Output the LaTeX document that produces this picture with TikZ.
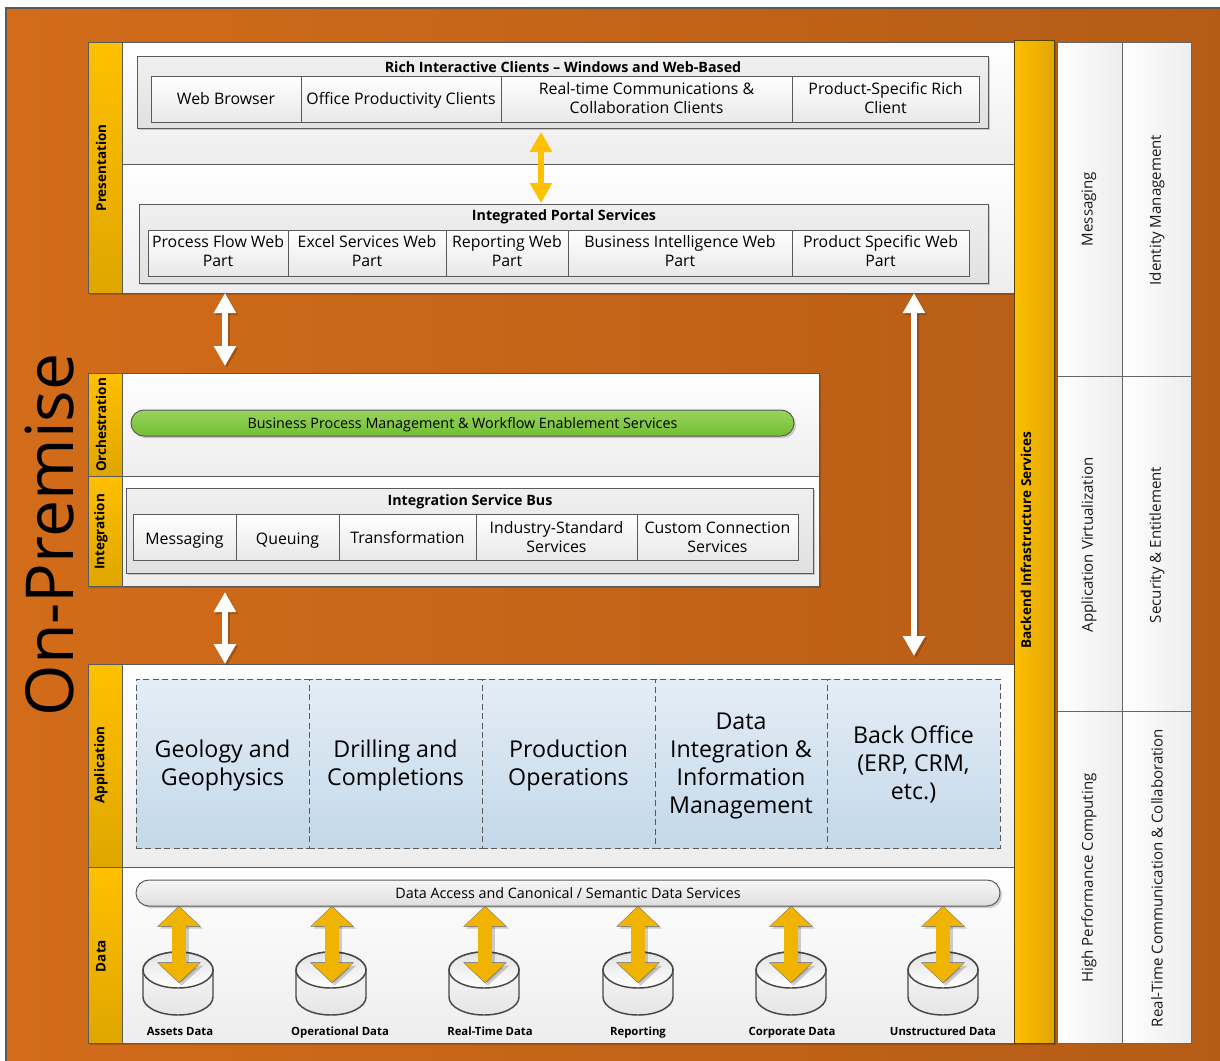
\documentclass[tikz,border=0pt]{standalone}
\usepackage{fontspec}
\setmainfont{Open Sans}
\usetikzlibrary{shadows,arrows.meta}
\definecolor{orA}{HTML}{D26C1A}
\definecolor{orB}{HTML}{B45C16}
\definecolor{goldA}{HTML}{FFC000}
\definecolor{goldB}{HTML}{DFA600}
\definecolor{goldM}{HTML}{EFB300}
\definecolor{edge}{HTML}{5A5A5A}
\definecolor{blueA}{HTML}{E4EDF6}
\definecolor{blueB}{HTML}{C3D8E9}
\definecolor{grnA}{HTML}{9AD45C}
\definecolor{grnB}{HTML}{72BE33}
\tikzset{
  x=0.75pt,y=-0.75pt,
  lstrut/.style={execute at begin node={\rule{0pt}{\dimexpr\ht\strutbox+#1\relax}},execute at end node=\strut},
  box/.style={inner sep=0pt,outer sep=0pt,draw=edge,line width=0.75pt},
  shad/.style={drop shadow={shadow xshift=1.6pt,shadow yshift=-1.6pt,opacity=.18,fill=black}},
  band/.style={box,top color=goldA,bottom color=goldB,shad},
  panel/.style={box,top color=white,bottom color=black!7,shad},
  groupbox/.style={box,top color=black!6,bottom color=black!12,shad},
  cell/.style={box,top color=white,bottom color=black!9,font=\fontsize{11.9}{14.25}\selectfont},
  appbox/.style={box,dashed,dash pattern=on 4.5pt off 2.6pt,top color=blueA,bottom color=blueB,font=\fontsize{17.4}{21}\selectfont},
  pill/.style={box,rounded corners=9.7pt,shad,lstrut=3pt,font=\fontsize{10.75}{12}\selectfont},
  vcol/.style={box,left color=white,right color=black!7,draw=black!60},
  ttl/.style={inner sep=0pt,lstrut=3pt,font=\bfseries\fontsize{10.7}{12}\selectfont},
  vlab/.style={inner sep=0pt,rotate=90,font=\bfseries\fontsize{10.1}{11}\selectfont},
  vtxt/.style={inner sep=0pt,rotate=90,font=\fontsize{11.3}{13}\selectfont,text=black!90},
  dbl/.style={inner sep=0pt,lstrut=3pt,font=\bfseries\fontsize{8.5}{10}\selectfont},
  dbbody/.style={draw=black!72,line width=1.1pt,top color=black!2,bottom color=black!10},
  dbtop/.style={draw=black!72,line width=1.1pt,top color=black!11,bottom color=white},
  sharr/.style={line width=3.8pt,black,opacity=.2,{Triangle[length=15pt,width=15.8pt]}-{Triangle[length=15pt,width=15.8pt]},transform canvas={shift={(1.5pt,-1.5pt)}}},
  warr/.style={line width=3.8pt,white,{Triangle[length=15pt,width=15.8pt]}-{Triangle[length=15pt,width=15.8pt]}},
  garr/.style={line width=4pt,goldA,{Triangle[length=15pt,width=16pt]}-{Triangle[length=15pt,width=16pt]}},
  sharrB/.style={line width=11.5pt,black,opacity=.18,{Triangle[length=15pt,width=31.5pt]}-{Triangle[length=15pt,width=31.5pt]},transform canvas={shift={(2pt,-2pt)}}},
  darrO/.style={line width=11.2pt,edge,{Triangle[length=15.4pt,width=31.5pt]}-{Triangle[length=15.4pt,width=31.5pt]}},
  darr/.style={line width=10.2pt,goldM,{Triangle[length=14.6pt,width=30pt]}-{Triangle[length=14.6pt,width=30pt]},shorten >=0.4pt,shorten <=0.4pt},
}
\newcommand\bx[7]{\node[#6,minimum width={(#4-#2)*0.75pt},minimum height={(#5-#3)*0.75pt}] (#1) at ({(#2+#4)/2},{(#3+#5)/2}) {#7};}
\newcommand\tx[2]{\vbox{\kern#1\hbox{\begin{tabular}{@{}c@{}}#2\end{tabular}}}}
\newcommand\celltext[1]{\tx{3pt}{#1}}
\newcommand\apptext[1]{\tx{3.8pt}{#1}}
\newcommand\whitelink[2]{\draw[sharr] (#1) -- (#2); \draw[warr] (#1) -- (#2);}
\newcommand\goldlink[2]{\draw[garr] (#1) -- (#2);}
\newcommand\datalink[2]{\draw[sharrB] (#1) -- (#2); \draw[darrO] (#1) -- (#2); \draw[darr] (#1) -- (#2);}
\newcommand\cyl[2]{\coordinate (#1) at (#2,984);
  \begin{scope}[shift={(#2,0)}]
    \draw[dbbody] (-35,970) -- (-35,997) arc[start angle=180,end angle=360,x radius=26.25pt,y radius=13.5pt] -- (35,970) arc[start angle=0,end angle=180,x radius=26.25pt,y radius=13.5pt] -- cycle;
    \draw[dbtop] (-35,970) arc[start angle=180,end angle=-180,x radius=26.25pt,y radius=13.5pt] -- cycle;
  \end{scope}}
\begin{document}
\begin{tikzpicture}
\useasboundingbox (0,0) rectangle (1220,1060);
\bx{bg}{6}{8}{1232}{1072}{draw=edge,line width=0.8pt,inner sep=0pt,outer sep=0pt,left color=orA,right color=orB}{}
\node[inner sep=0pt,rotate=90,font=\fontsize{49.6}{60}\selectfont] (onprem) at (50,535) {On-Premise};

% Presentation
\bx{presB}{88}{42}{122}{293}{band}{}
\bx{presP1}{122}{42}{1014}{164}{panel}{}
\bx{presP2}{122}{164}{1014}{293}{panel}{}
\node[vlab] (presL) at (101,168) {Presentation};
\bx{rich}{137}{56}{988}{128}{groupbox}{}
\node[ttl] (richT) at (563,67) {Rich Interactive Clients – Windows and Web-Based};
\bx{c1}{151}{76}{301}{122}{cell}{\celltext{Web Browser}}
\bx{c2}{301}{76}{501}{122}{cell}{\celltext{Office Productivity Clients}}
\bx{c3}{501}{76}{792}{122}{cell}{\tx{1.5pt}{Real-time Communications \&\\Collaboration Clients}}
\bx{c4}{792}{76}{979}{122}{cell}{\tx{1.5pt}{Product-Specific Rich\\Client}}
\bx{portal}{139}{204}{988}{283}{groupbox}{}
\node[ttl] (portalT) at (564,215) {Integrated Portal Services};
\bx{p1}{148}{230}{288}{276}{cell}{\tx{0pt}{Process Flow Web\\Part}}
\bx{p2}{288}{230}{446}{276}{cell}{\tx{0pt}{Excel Services Web\\Part}}
\bx{p3}{446}{230}{568}{276}{cell}{\tx{0pt}{Reporting Web\\Part}}
\bx{p4}{568}{230}{792}{276}{cell}{\tx{0pt}{Business Intelligence Web\\Part}}
\bx{p5}{792}{230}{969}{276}{cell}{\tx{0pt}{Product Specific Web\\Part}}

% Orchestration and Integration
\bx{orchB}{88}{373}{122}{476}{band}{}
\bx{orchP}{122}{373}{819}{476}{panel}{}
\node[vlab] (orchL) at (101,425) {Orchestration};
\bx{bpm}{131}{410}{794}{436}{pill,top color=grnA,bottom color=grnB}{Business Process Management \& Workflow Enablement Services}
\bx{intB}{88}{476}{122}{586}{band}{}
\bx{intP}{122}{476}{819}{586}{panel}{}
\node[vlab] (intL) at (101,532) {Integration};
\bx{bus}{126}{488}{813}{573}{groupbox}{}
\node[ttl] (busT) at (470,500) {Integration Service Bus};
\bx{i1}{133}{514}{236}{560}{cell}{\tx{5pt}{Messaging}}
\bx{i2}{236}{514}{339}{560}{cell}{\tx{5pt}{Queuing}}
\bx{i3}{339}{514}{476}{560}{cell}{\tx{4pt}{Transformation}}
\bx{i4}{476}{514}{637}{560}{cell}{\celltext{Industry-Standard\\Services}}
\bx{i5}{637}{514}{798}{560}{cell}{\celltext{Custom Connection\\Services}}

% Application
\bx{appB}{88}{664}{122}{867}{band}{}
\bx{appP}{122}{664}{1014}{867}{panel}{}
\node[vlab] (appL) at (101,765) {Application};
\bx{a1}{136}{679}{309}{848}{appbox}{\apptext{Geology and\\Geophysics}}
\bx{a2}{309}{679}{482}{848}{appbox}{\apptext{Drilling and\\Completions}}
\bx{a3}{482}{679}{655}{848}{appbox}{\apptext{Production\\Operations}}
\bx{a4}{655}{679}{827}{848}{appbox}{\apptext{Data\\Integration \&\\Information\\Management}}
\bx{a5}{827}{679}{1000}{848}{appbox}{\apptext{Back Office\\(ERP, CRM,\\etc.)}}

% Data
\bx{dataB}{88}{867}{122}{1043}{band}{}
\bx{dataP}{122}{867}{1014}{1043}{panel}{}
\node[vlab] (dataL) at (101,956) {Data};
\cyl{d1}{178}
\cyl{d2}{331}
\cyl{d3}{484}
\cyl{d4}{638}
\cyl{d5}{791}
\cyl{d6}{943}
\bx{dac}{136}{880}{1000}{906}{pill,top color=black!3,bottom color=black!13}{Data Access and Canonical / Semantic Data Services}
\node[dbl] (l1) at (180,1031) {Assets Data};
\node[dbl] (l2) at (340,1031) {Operational Data};
\node[dbl] (l3) at (490,1031) {Real-Time Data};
\node[dbl] (l4) at (638,1031) {Reporting};
\node[dbl] (l5) at (792,1031) {Corporate Data};
\node[dbl] (l6) at (943,1031) {Unstructured Data};

% Right side
\bx{r1}{1057}{42}{1122}{376}{vcol}{}
\bx{r2}{1057}{376}{1122}{711}{vcol}{}
\bx{r3}{1057}{711}{1122}{1043}{vcol}{}
\bx{s1}{1122}{42}{1191}{376}{vcol}{}
\bx{s2}{1122}{376}{1191}{711}{vcol}{}
\bx{s3}{1122}{711}{1191}{1043}{vcol}{}
\node[vtxt] (r1t) at (1089,209) {Messaging};
\node[vtxt] (r2t) at (1089,545) {Application Virtualization};
\node[vtxt] (r3t) at (1089,878) {High Performance Computing};
\node[vtxt] (s1t) at (1157,210) {Identity Management};
\node[vtxt] (s2t) at (1157,545) {Security \& Entitlement};
\node[vtxt] (s3t) at (1157,878) {Real-Time Communication \& Collaboration};
\bx{back}{1014}{40}{1054}{1043}{box,left color=goldA,right color=goldB,draw=black!60!goldB,shad}{}
\node[vlab,font=\bfseries\fontsize{10.2}{11}\selectfont] (backT) at (1026,540) {Backend Infrastructure Services};

% Connectors
\coordinate (g1) at (541,132); \coordinate (g2) at (541,203);
\goldlink{g1}{g2}
\coordinate (w1) at (225,293); \coordinate (w2) at (225,366);
\whitelink{w1}{w2}
\coordinate (w3) at (225,592); \coordinate (w4) at (225,664);
\whitelink{w3}{w4}
\coordinate (w5) at (914,293); \coordinate (w6) at (914,656);
\whitelink{w5}{w6}
\foreach \n/\xx in {1/179,2/332,3/485,4/638,5/791,6/943}{
  \coordinate (dt\n) at (\xx,906); \coordinate (db\n) at (\xx,983);
  \datalink{dt\n}{db\n}
}
\end{tikzpicture}
\end{document}
